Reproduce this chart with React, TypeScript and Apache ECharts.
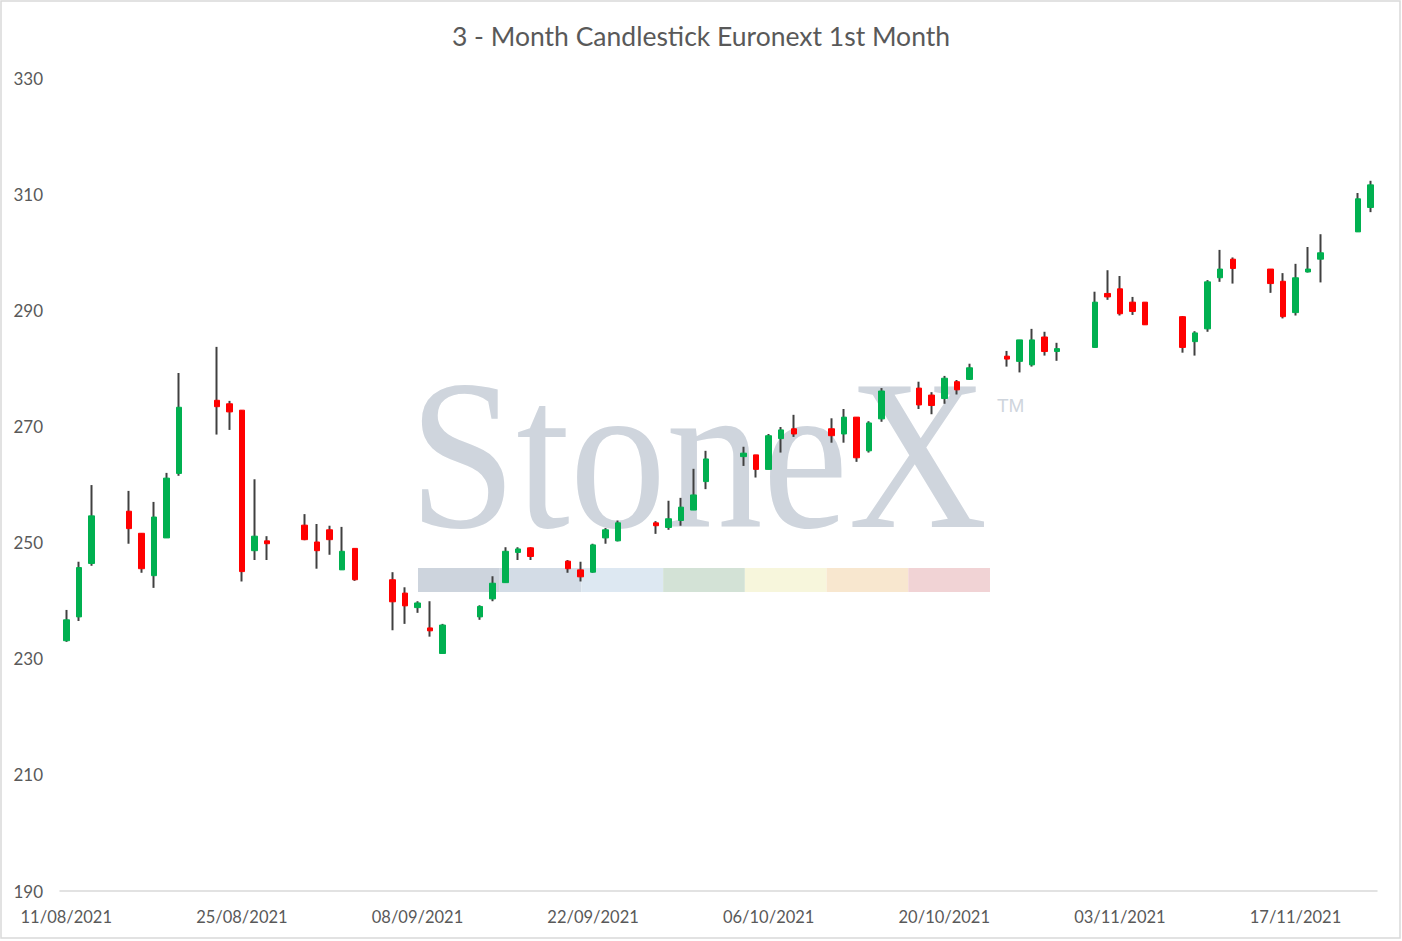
import React, { useEffect, useRef } from "react";
import * as echarts from "echarts";

const dates = [
  "11/08/2021", "12/08/2021", "13/08/2021",
  "16/08/2021", "17/08/2021", "18/08/2021", "19/08/2021", "20/08/2021",
  "23/08/2021", "24/08/2021", "25/08/2021", "26/08/2021", "27/08/2021",
  "30/08/2021", "31/08/2021", "01/09/2021", "02/09/2021", "03/09/2021",
  "06/09/2021", "07/09/2021", "08/09/2021", "09/09/2021", "10/09/2021",
  "13/09/2021", "14/09/2021", "15/09/2021", "16/09/2021", "17/09/2021",
  "20/09/2021", "21/09/2021", "22/09/2021", "23/09/2021", "24/09/2021",
  "27/09/2021", "28/09/2021", "29/09/2021", "30/09/2021", "01/10/2021",
  "04/10/2021", "05/10/2021", "06/10/2021", "07/10/2021", "08/10/2021",
  "11/10/2021", "12/10/2021", "13/10/2021", "14/10/2021", "15/10/2021",
  "18/10/2021", "19/10/2021", "20/10/2021", "21/10/2021", "22/10/2021",
  "25/10/2021", "26/10/2021", "27/10/2021", "28/10/2021", "29/10/2021",
  "01/11/2021", "02/11/2021", "03/11/2021", "04/11/2021", "05/11/2021",
  "08/11/2021", "09/11/2021", "10/11/2021", "11/11/2021", "12/11/2021",
  "15/11/2021", "16/11/2021", "17/11/2021", "18/11/2021", "19/11/2021",
  "22/11/2021", "23/11/2021",
];

const openValues = [
  233.1, 237.2, 246.4,
  255.4, 251.6, 244.3, 250.8, 261.9,
  274.5, 273.9, 272.8, 248.6, 250.3,
  253.0, 250.1, 252.2, 245.3, 249.0,
  243.6, 241.3, 238.8, 235.3, 230.9,
  237.2, 240.3, 243.1, 248.3, 249.1,
  246.8, 245.3, 244.9, 250.8, 250.3,
  253.4, 252.6, 253.8, 255.6, 260.5,
  264.8, 265.1, 262.6, 267.9, 269.6,
  269.6, 268.7, 271.6, 265.8, 271.3,
  276.6, 275.4, 274.8, 277.7, 278.1,
  282.1, 281.2, 280.6, 285.4, 282.9,
  283.6, 292.9, 293.7, 291.4, 291.4,
  288.9, 284.6, 286.8, 295.6, 298.8,
  297.1, 295.0, 289.6, 296.6, 298.8,
  303.5, 307.7,
];

const highValues = [
  238.4, 246.7, 259.9,
  258.9, 251.6, 257.0, 262.0, 279.2,
  283.7, 274.4, 272.8, 260.9, 251.1,
  254.9, 253.2, 252.9, 252.7, 249.0,
  244.9, 242.3, 239.9, 239.9, 236.0,
  239.2, 244.2, 249.2, 249.2, 249.2,
  247.0, 246.7, 249.8, 252.5, 253.8,
  253.7, 257.2, 257.7, 262.7, 265.8,
  266.5, 265.1, 268.7, 269.9, 272.0,
  271.4, 273.0, 271.6, 270.9, 276.6,
  277.7, 275.9, 278.7, 278.0, 280.8,
  283.0, 284.9, 286.8, 286.3, 284.4,
  293.2, 296.9, 295.9, 292.3, 291.4,
  289.0, 286.4, 295.2, 300.4, 299.1,
  297.1, 296.4, 298.0, 300.9, 303.1,
  310.2, 312.3,
];

const lowValues = [
  232.9, 236.5, 246.0,
  249.8, 244.8, 242.2, 250.8, 261.5,
  268.6, 269.4, 243.3, 247.0, 247.0,
  250.4, 245.5, 247.9, 245.3, 243.4,
  234.9, 236.0, 237.9, 233.8, 230.9,
  236.7, 239.9, 243.1, 247.0, 247.0,
  244.8, 243.3, 244.8, 249.8, 250.2,
  251.5, 252.2, 252.9, 255.6, 259.2,
  263.2, 261.2, 262.6, 265.5, 268.2,
  267.2, 267.2, 263.9, 265.5, 270.8,
  273.0, 272.1, 273.9, 275.5, 278.0,
  280.3, 279.3, 280.3, 282.2, 281.3,
  283.6, 291.8, 289.1, 289.2, 287.5,
  282.7, 282.2, 286.3, 294.9, 294.6,
  293.0, 288.6, 289.1, 296.5, 294.8,
  303.5, 306.9,
];

const closeValues = [
  236.7, 245.7, 254.6,
  252.4, 245.5, 254.4, 261.1, 273.3,
  273.4, 272.5, 245.0, 251.1, 249.8,
  250.5, 248.6, 250.5, 248.5, 243.6,
  239.8, 239.1, 239.6, 234.8, 235.8,
  239.0, 243.0, 248.5, 248.9, 247.6,
  245.5, 244.1, 249.6, 252.2, 253.4,
  252.9, 254.1, 256.1, 258.2, 264.4,
  265.4, 262.6, 268.4, 269.4, 268.7,
  268.4, 271.6, 264.6, 270.6, 276.1,
  273.7, 273.6, 278.3, 276.3, 280.1,
  281.6, 284.9, 284.9, 282.9, 283.4,
  291.4, 292.3, 289.4, 289.8, 287.5,
  283.6, 286.1, 294.9, 297.1, 297.2,
  294.6, 288.9, 295.6, 297.1, 299.9,
  309.2, 311.6,
];

const xTickLabels = [
  "11/08/2021", "25/08/2021", "08/09/2021", "22/09/2021",
  "06/10/2021", "20/10/2021", "03/11/2021", "17/11/2021",
];
const yTickValues = [190, 210, 230, 250, 270, 290, 310, 330];

const watermarkColors = [
  "#cdd4dd", "#d3dce6", "#dde8f2", "#d3e2d6", "#f7f6dc", "#f8e7cf", "#f1d3d5",
];

const DAY = 86400000;
function toDay(s: string): number {
  const [d, m, y] = s.split("/").map(Number);
  return Date.UTC(y, m - 1, d) / DAY;
}
const baseDay = toDay(dates[0]);
const xValues = dates.map((d) => toDay(d) - baseDay);
const xTickValues = xTickLabels.map((d) => toDay(d) - baseDay);

export default function App() {
  const ref = useRef<HTMLDivElement>(null);

  useEffect(() => {
    if (!ref.current) return;
    const chart = echarts.init(ref.current, undefined, { renderer: "svg" });

    const wickData = dates.map((_, i) => [
      xValues[i], openValues[i], closeValues[i], lowValues[i], highValues[i],
    ]);
    const bodyData = dates.map((_, i) => [
      xValues[i], openValues[i], closeValues[i],
      Math.min(openValues[i], closeValues[i]), Math.max(openValues[i], closeValues[i]),
    ]);

    const segW = (990 - 418) / watermarkColors.length;
    const graphics: any[] = [
      {
        type: "rect",
        silent: true,
        z: 0,
        shape: { x: 1, y: 1, width: 1399, height: 937 },
        style: { fill: "none", stroke: "#d9d9d9", lineWidth: 1.5 },
      },
      {
        type: "text",
        silent: true,
        z: 0,
        x: 409,
        y: 455,
        scaleX: 0.901,
        style: {
          text: "StoneX",
          fontFamily: "Liberation Serif",
          fontSize: 214,
          fill: "#cfd5dd",
          align: "left",
          verticalAlign: "middle",
        },
      },
      {
        type: "text",
        silent: true,
        z: 0,
        x: 997,
        y: 405,
        style: {
          text: "TM",
          fontFamily: "Liberation Sans",
          fontSize: 19,
          fill: "#cfd5dd",
          align: "left",
          verticalAlign: "middle",
        },
      },
      ...watermarkColors.map((c, i) => ({
        type: "rect",
        silent: true,
        z: 0,
        shape: { x: 418 + i * segW, y: 568, width: segW, height: 24 },
        style: { fill: c },
      })),
    ];

    chart.setOption({
      animation: false,
      backgroundColor: "#ffffff",
      title: {
        text: "3 - Month Candlestick Euronext 1st Month",
        left: "center",
        top: 17,
        textStyle: {
          fontFamily: "Lato",
          fontSize: 26.5,
          fontWeight: "normal",
          color: "#595959",
        },
      },
      graphic: graphics,
      grid: { left: 60, right: 25, top: 78, bottom: 50 },
      xAxis: {
        type: "value",
        min: -0.5,
        max: xValues[xValues.length - 1] + 0.5,
        axisLine: { show: true, lineStyle: { color: "#d9d9d9", width: 1.5 } },
        axisTick: { show: false },
        splitLine: { show: false },
        axisLabel: {
          customValues: xTickValues,
          margin: 17,
          fontFamily: "Lato",
          fontSize: 16.5,
          color: "#595959",
          formatter: (v: number) => {
            const idx = xTickValues.indexOf(Math.round(v));
            return idx >= 0 ? xTickLabels[idx] : "";
          },
        },
      },
      yAxis: {
        type: "value",
        min: 190,
        max: 330,
        interval: 20,
        axisLine: { show: false },
        axisTick: { show: false },
        splitLine: { show: false },
        axisLabel: {
          customValues: yTickValues,
          margin: 17,
          fontFamily: "Lato",
          fontSize: 17,
          color: "#595959",
        },
      },
      series: [
        {
          name: "wick",
          type: "candlestick",
          z: 3,
          barWidth: 1,
          silent: true,
          encode: { x: 0, y: [1, 2, 3, 4] },
          data: wickData,
          itemStyle: {
            color: "#404040",
            color0: "#404040",
            borderColor: "#404040",
            borderColor0: "#404040",
            borderColorDoji: "#404040",
            borderWidth: 2,
          },
        },
        {
          name: "body",
          type: "candlestick",
          z: 4,
          barWidth: 6,
          silent: true,
          encode: { x: 0, y: [1, 2, 3, 4] },
          data: bodyData,
          itemStyle: {
            color: "#00b050",
            color0: "#ff0000",
            borderColor: "#00b050",
            borderColor0: "#ff0000",
            borderColorDoji: "#ff0000",
            borderWidth: 1,
          },
        },
      ],
    });

    return () => chart.dispose();
  }, []);

  return (
    <div
      ref={ref}
      style={{
        position: "fixed",
        left: 0,
        top: 0,
        width: 1402,
        height: 941,
        background: "#ffffff",
      }}
    />
  );
}
